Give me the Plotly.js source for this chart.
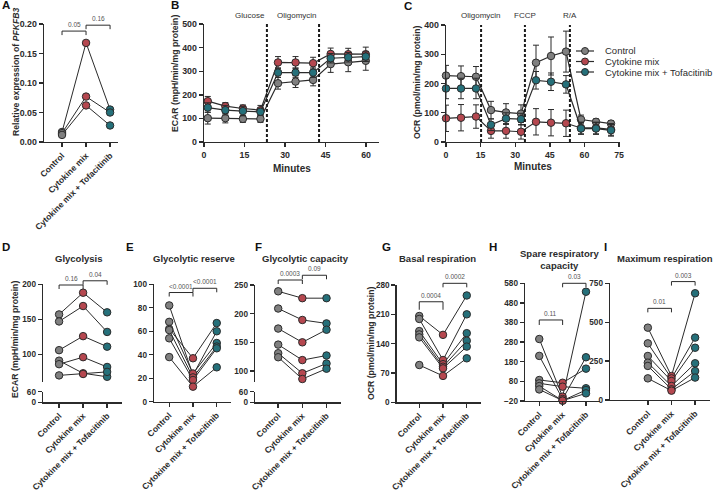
<!DOCTYPE html>
<html>
<head>
<meta charset="utf-8">
<script src="https://cdn.plot.ly/plotly-3.0.1.min.js"></script>
<style>
  html, body { margin: 0; padding: 0; background: #fff; }
  #chart { width: 719px; height: 491px; }
</style>
</head>
<body>
<div id="chart"></div>
<script>
const W = 719, H = 491;
const FONT = "Liberation Sans, Arial, Helvetica, sans-serif";
const INK = "#2b2b2b";
const GROUPS = ["Control", "Cytokine mix", "Cytokine mix + Tofacitinib"];
const COLORS = ["#808080", "#b5474f", "#25707a"];

// ----- data -----
// A: PFKFB3 expression, one entry per donor
const aControl = [0.017, 0.015, 0.012];
const aCytokine = [0.168, 0.077, 0.062];
const aTofa = [0.055, 0.050, 0.028];

// B: ECAR time course
const bMinutes = [1.4, 7.9, 14.4, 20.9, 27.4, 33.9, 40.4, 46.9, 53.4, 59.9];
const bControl = [101, 101, 98, 98, 249, 256, 263, 330, 338, 344];
const bControlErr = [25, 20, 15, 15, 25, 25, 25, 35, 40, 40];
const bCytokine = [173, 152, 142, 135, 337, 337, 334, 373, 372, 372];
const bCytokineErr = [20, 15, 15, 20, 25, 25, 25, 25, 25, 30];
const bTofa = [146, 135, 131, 128, 294, 294, 294, 355, 359, 362];
const bTofaErr = [20, 20, 20, 15, 20, 20, 20, 20, 20, 20];
const bInjections = ["Glucose", "Oligomycin"];
const bInjectAt = [23.3, 42.6];

// C: OCR time course
const cMinutes = [0, 6.5, 13, 19.5, 26, 32.5, 39, 45.5, 52, 58.5, 65, 71.5];
const cControl = [227, 225, 223, 109, 101, 97, 271, 294, 309, 77, 69, 63];
const cControlErr = [35, 35, 35, 30, 30, 30, 60, 65, 70, 15, 10, 10];
const cCytokine = [81, 83, 87, 38, 38, 35, 69, 66, 64, 48, 48, 43];
const cCytokineErr = [45, 45, 40, 25, 25, 25, 45, 45, 45, 20, 20, 20];
const cTofa = [183, 183, 183, 59, 80, 78, 211, 206, 197, 46, 46, 40];
const cTofaErr = [35, 35, 35, 20, 20, 20, 30, 30, 30, 20, 20, 20];
const cInjections = ["Oligomycin", "FCCP", "R/A"];
const cInjectAt = [15.2, 34.2, 53.7];

// D-I: paired donors (index = donor)
const dControl = [157, 147, 106, 91, 86, 70];
const dCytokine = [188, 169, 126, 73, 96, 72];
const dTofa = [160, 132, 111, 68, 82, 75];

const eControl = [82, 68, 62, 61, 54, 38];
const eCytokine = [22.7, 24, 37, 20.7, 18.5, 12.8];
const eTofa = [60, 50, 67, 47, 45.5, 29.3];

const fControl = [239, 209, 174, 146, 131, 124];
const fCytokine = [227, 189, 150, 119, 96, 86];
const fTofa = [227, 183, 172, 127, 113, 104];

const gControl = [206, 199, 170, 162, 155, 89];
const gCytokine = [161, 101, 91, 85, 81, 63];
const gTofa = [255, 210, 165, 147, 133, 105];

const hControl = [296, 210, 87, 70, 56, 39];
const hCytokine = [2, -10, 73, 53, -18, -18];
const hTofa = [537, 203, 145, 45, 36, 19];

const iControl = [465, 364, 283, 240, 219, 139];
const iCytokine = [154, 139, 122, 90, 69, 60];
const iTofa = [686, 401, 336, 236, 186, 144];

// p-value brackets: [from group, to group, height, label]
const aBrackets = [[0, 1, 0.188, "0.05"], [1, 2, 0.198, "0.16"]];
const dBrackets = [[0, 1, 199, "0.16"], [1, 2, 205, "0.04"]];
const eBrackets = [[0, 1, 93, "<0.0001"], [1, 2, 96.6, "<0.0001"]];
const fBrackets = [[0, 1, 258.7, "0.0003"], [1, 2, 267, "0.09"]];
const gBrackets = [[0, 1, 240, "0.0004"], [1, 2, 284, "0.0002"]];
const hBrackets = [[0, 1, 393, "0.11"], [1, 2, 580, "0.03"]];
const iBrackets = [[0, 1, 589, "0.01"], [1, 2, 761, "0.003"]];

// ----- helpers -----
const px = v => v / W;        // pixel -> paper x
const py = v => 1 - v / H;    // pixel -> paper y
const axKey = id => id.replace(/^([xy])/, "$1axis");

const tickFont = { family: FONT, size: 8.8, color: INK, weight: 700 };
const axisBase = {
  showline: true, linecolor: INK, linewidth: 1.4,
  ticks: "outside", ticklen: 4, tickwidth: 1.4, tickcolor: INK,
  showgrid: false, zeroline: false, fixedrange: true,
  tickfont: tickFont
};

const traces = [];
const layout = {
  width: W, height: H,
  margin: { l: 0, r: 0, t: 0, b: 0 },
  paper_bgcolor: "#fff", plot_bgcolor: "rgba(0,0,0,0)",
  showlegend: false, hovermode: false,
  font: { family: FONT, color: INK },
  shapes: [], annotations: []
};

function label(text, x, y, opts = {}) {
  layout.annotations.push({
    xref: "paper", yref: "paper", x: px(x), y: py(y), text, showarrow: false,
    xanchor: opts.xanchor || "center", yanchor: opts.yanchor || "middle",
    textangle: opts.angle || 0,
    font: { family: FONT, size: opts.size || 9, color: opts.color || INK, weight: opts.weight || 400 }
  });
}

// ----- paired category panels -----
const catPanels = [
  { xa: "x", ya: "y", xPx: [44, 118], yPx: [24, 142], xr: [-0.75, 2.33], yr: [0, 0.2],
    yTicks: [0, 0.05, 0.1, 0.15, 0.2], yFmt: ".2f", ctrl: aControl, cyto: aCytokine, tofa: aTofa, brackets: aBrackets },
  { xa: "x4", ya: "y4", low: "y5", xPx: [43, 122], yPx: [284.3, 381.7], lowPx: [391.7, 402.3], xr: [-0.67, 2.62], yr: [61, 200],
    yTicks: [100, 150, 200], ctrl: dControl, cyto: dCytokine, tofa: dTofa, brackets: dBrackets },
  { xa: "x5", ya: "y6", xPx: [154, 231], yPx: [284.3, 401.7], xr: [-0.64, 2.6], yr: [0, 100],
    yTicks: [0, 20, 40, 60, 80, 100], ctrl: eControl, cyto: eCytokine, tofa: eTofa, brackets: eBrackets },
  { xa: "x6", ya: "y7", low: "y8", xPx: [255, 341], yPx: [285, 381.7], lowPx: [391.7, 402.3], xr: [-0.96, 2.6], yr: [81.3, 250],
    yTicks: [100, 150, 200, 250], ctrl: fControl, cyto: fCytokine, tofa: fTofa, brackets: fBrackets },
  { xa: "x7", ya: "y9", xPx: [396.7, 481], yPx: [285, 402.3], xr: [-0.95, 2.6], yr: [0, 280],
    yTicks: [0, 70, 140, 210, 280], ctrl: gControl, cyto: gCytokine, tofa: gTofa, brackets: gBrackets, drop0: 8 },
  { xa: "x8", ya: "y10", xPx: [525, 600], yPx: [283.3, 401], xr: [-0.61, 2.6], yr: [-20, 580],
    yTicks: [-20, 80, 180, 280, 380, 480, 580], ctrl: hControl, cyto: hCytokine, tofa: hTofa, brackets: hBrackets, drop0: 5 },
  { xa: "x9", ya: "y11", xPx: [610, 710], yPx: [283.3, 400], xr: [-1.6, 2.63], yr: [0, 750],
    yTicks: [0, 250, 500, 750], ctrl: iControl, cyto: iCytokine, tofa: iTofa, brackets: iBrackets }
];

const catPx = (p, i) => p.xPx[0] + (i - p.xr[0]) / (p.xr[1] - p.xr[0]) * (p.xPx[1] - p.xPx[0]);
const valPy = (p, v) => p.yPx[1] - (v - p.yr[0]) / (p.yr[1] - p.yr[0]) * (p.yPx[1] - p.yPx[0]);

catPanels.forEach((p, n) => {
  const yFont = { ...tickFont, size: n === 0 ? 8.8 : 8.2 };
  layout[axKey(p.xa)] = {
    ...axisBase, type: "category", categoryorder: "array", categoryarray: GROUPS,
    range: p.xr, domain: [px(p.xPx[0]), px(p.xPx[1])], anchor: p.low || p.ya, tickangle: -45,
    tickfont: { ...tickFont, size: 8.5 }
  };
  layout[axKey(p.ya)] = {
    ...axisBase, domain: [py(p.yPx[1]), py(p.yPx[0])], range: p.yr, anchor: p.xa,
    tickmode: "array", tickvals: p.yTicks, tickformat: p.yFmt || "", tickfont: yFont
  };
  if (p.low) {
    layout[axKey(p.low)] = {
      ...axisBase, domain: [py(p.lowPx[1]), py(p.lowPx[0])], range: [0, 60], anchor: p.xa,
      tickmode: "array", tickvals: [0, 60], tickfont: yFont
    };
    traces.push({ type: "scatter", mode: "markers", x: [], y: [], xaxis: p.xa, yaxis: p.low, hoverinfo: "skip" });
  }
  // one connecting line per donor
  p.ctrl.forEach((_, i) => traces.push({
    type: "scatter", mode: "lines", x: GROUPS, y: [p.ctrl[i], p.cyto[i], p.tofa[i]],
    xaxis: p.xa, yaxis: p.ya, line: { color: INK, width: 1 }, hoverinfo: "skip"
  }));
  // markers per group on top
  [p.ctrl, p.cyto, p.tofa].forEach((vals, g) => traces.push({
    type: "scatter", mode: "markers", x: vals.map(() => GROUPS[g]), y: vals,
    xaxis: p.xa, yaxis: p.ya, cliponaxis: false,
    marker: { size: 7.5, color: COLORS[g], line: { color: INK, width: 1 } }
  }));
  // significance brackets
  p.brackets.forEach(([i0, i1, v, txt], k) => {
    const x0 = catPx(p, i0), x1 = catPx(p, i1), y = valPy(p, v);
    const drop = k === 0 && p.drop0 ? p.drop0 : 4;
    layout.shapes.push({
      type: "path", xref: "paper", yref: "paper",
      path: `M${px(x0)},${py(y + drop)} L${px(x0)},${py(y)} L${px(x1)},${py(y)} L${px(x1)},${py(y + drop)}`,
      line: { color: INK, width: 1 }
    });
    label(txt, (x0 + x1) / 2, y - 1, { yanchor: "bottom", size: 6.5, color: "#555" });
  });
});

// ----- time course panels -----
const timePanels = [
  { xa: "x2", ya: "y2", xPx: [204, 379], yPx: [24, 142], xr: [0, 64.8], yr: [0, 500],
    xTicks: [0, 15, 30, 45, 60], yTicks: [0, 100, 200, 300, 400, 500],
    t: bMinutes, series: [bControl, bCytokine, bTofa], errs: [bControlErr, bCytokineErr, bTofaErr],
    inj: bInjections, injAt: bInjectAt, injAnchor: "right" },
  { xa: "x3", ya: "y3", xPx: [446, 620], yPx: [25, 142], xr: [0, 75.4], yr: [0, 400],
    xTicks: [0, 15, 30, 45, 60, 75], yTicks: [0, 100, 200, 300, 400],
    t: cMinutes, series: [cControl, cCytokine, cTofa], errs: [cControlErr, cCytokineErr, cTofaErr],
    inj: cInjections, injAt: cInjectAt, injAnchor: "center" }
];

timePanels.forEach(p => {
  layout[axKey(p.xa)] = {
    ...axisBase, range: p.xr, domain: [px(p.xPx[0]), px(p.xPx[1])], anchor: p.ya,
    tickmode: "array", tickvals: p.xTicks
  };
  layout[axKey(p.ya)] = {
    ...axisBase, range: p.yr, domain: [py(p.yPx[1]), py(p.yPx[0])], anchor: p.xa,
    tickmode: "array", tickvals: p.yTicks
  };
  p.injAt.forEach((t, k) => {
    layout.shapes.push({
      type: "line", xref: p.xa, yref: p.ya, x0: t, x1: t, y0: p.yr[0], y1: p.yr[1],
      line: { color: "#1a1a1a", width: 2, dash: "3px,2px" }
    });
    layout.annotations.push({
      xref: p.xa, yref: "paper", x: t, y: py(16), text: p.inj[k], showarrow: false,
      xanchor: p.injAnchor, yanchor: "middle",
      font: { family: FONT, size: 8, color: "#333" }
    });
  });
  p.series.forEach((vals, g) => traces.push({
    type: "scatter", mode: "lines+markers", x: p.t, y: vals, xaxis: p.xa, yaxis: p.ya,
    name: GROUPS[g], cliponaxis: false,
    line: { color: INK, width: 1.2 },
    marker: { size: 7.5, color: COLORS[g], line: { color: INK, width: 1 } },
    error_y: { type: "data", array: p.errs[g], visible: true, color: INK, thickness: 1, width: 3 }
  }));
});

// ----- legend (drawn by hand for tight row spacing) -----
const legendRows = [51, 61.5, 72];
GROUPS.forEach((name, g) => {
  const y = legendRows[g];
  layout.shapes.push({ type: "line", xref: "paper", yref: "paper",
    x0: px(576), x1: px(594), y0: py(y), y1: py(y), line: { color: INK, width: 1.2 } });
  layout.shapes.push({ type: "circle", xref: "paper", yref: "paper",
    x0: px(581.5), x1: px(588.5), y0: py(y + 3.5), y1: py(y - 3.5),
    fillcolor: COLORS[g], line: { color: INK, width: 1 } });
  label(name, 603, y, { xanchor: "left", size: 9.5 });
});

// ----- titles and letters -----
[["A", 0, 5], ["B", 169, 5], ["C", 402, 6], ["D", 0, 247], ["E", 124, 247],
 ["F", 253, 247], ["G", 380, 247], ["H", 487, 247], ["I", 602, 247]]
  .forEach(([t, x, y]) => label(t, x, y, { xanchor: "left", size: 11.5, weight: 700, color: "#111" }));

label("Relative expression of <i>PFKFB3</i>", 16, 72, { angle: -90, size: 8.7, weight: 700 });
label("ECAR (mpH/min/mg protein)", 175, 74, { angle: -90, size: 8.7, weight: 700 });
label("OCR (pmol/min/mg protein)", 417, 82, { angle: -90, size: 8.7, weight: 700 });
label("ECAR (mpH/min/mg protein)", 15, 340, { angle: -90, size: 8.7, weight: 700 });
label("OCR (pmol/min/mg protein)", 371, 343, { angle: -90, size: 8.7, weight: 700 });
label("Minutes", 292, 168, { size: 10, weight: 700 });
label("Minutes", 533, 167, { size: 10, weight: 700 });

label("Glycolysis", 79, 258, { size: 9.5, weight: 700 });
label("Glycolytic reserve", 194, 258, { size: 9.5, weight: 700 });
label("Glycolytic capacity", 305, 258, { size: 9.5, weight: 700 });
label("Basal respiration", 437, 258, { size: 9.5, weight: 700 });
label("Spare respiratory<br>capacity", 559, 259, { size: 9.5, weight: 700 });
label("Maximum respiration", 665, 258, { size: 9.5, weight: 700 });

Plotly.newPlot("chart", traces, layout, { staticPlot: true, displayModeBar: false });
</script>
</body>
</html>
